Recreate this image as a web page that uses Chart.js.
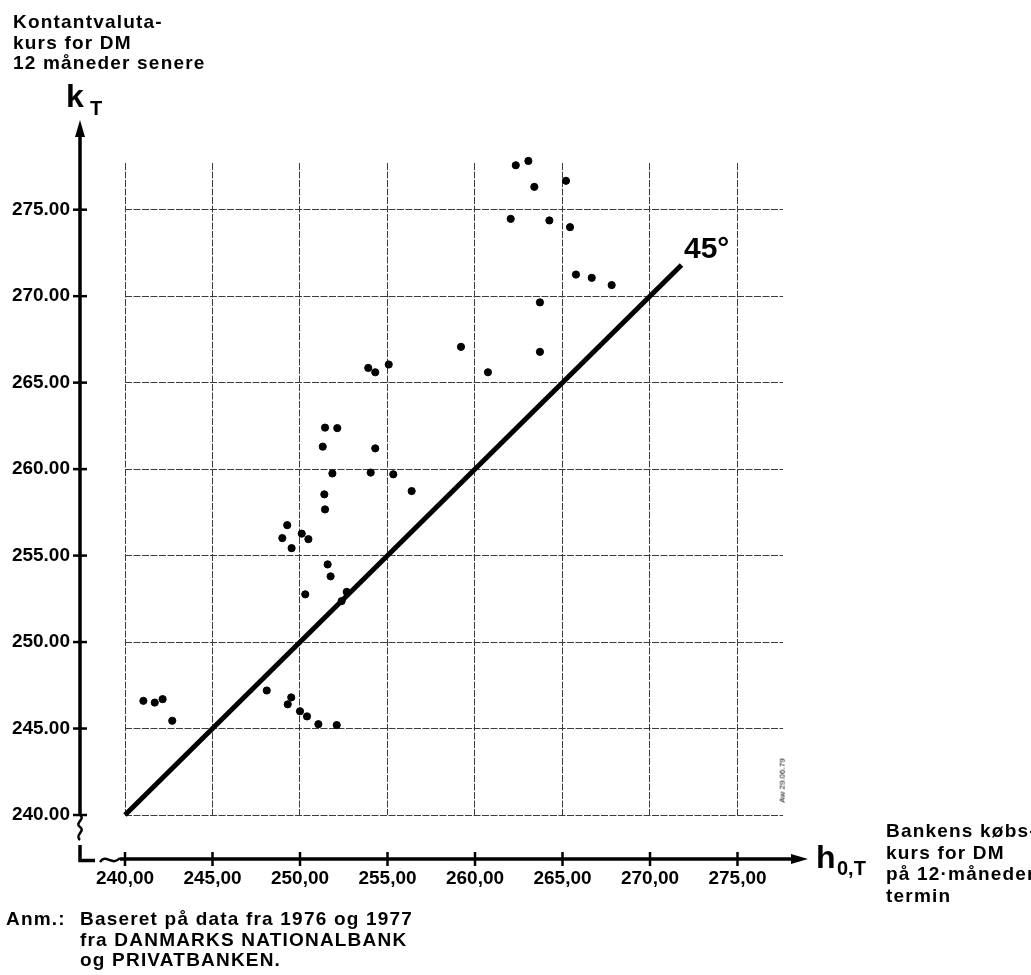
<!DOCTYPE html>
<html>
<head>
<meta charset="utf-8">
<script src="https://cdn.jsdelivr.net/npm/chart.js@4/dist/chart.umd.min.js"></script>
<style>
  html, body { margin: 0; padding: 0; background: #fff; }
  #wrap { position: relative; width: 1031px; height: 975px; overflow: hidden; }
  #chart { position: absolute; left: 0; top: 0; }
  .txt { position: absolute; font-family: 'Liberation Sans', Arial, Helvetica, sans-serif; color: #000; white-space: nowrap; }
  .block { font-weight: bold; font-size: 19px; line-height: 20.5px; letter-spacing: 1.2px; }
  .sym { font-size: 32px; line-height: 32px; font-weight: bold; }
  .sub { font-size: 20px; line-height: 20px; font-weight: bold; }
</style>
</head>
<body>
<div id="wrap">
  <canvas id="chart" width="1031" height="975"></canvas>

  <div class="txt block" style="left:13px; top:12px;">Kontantvaluta-<br>kurs for DM<br>12 måneder senere</div>
  <div class="txt sym" style="left:66px; top:80px;">k</div>
  <div class="txt sub" style="left:90px; top:98px;">T</div>

  <div class="txt sym" style="left:816px; top:841px;">h</div>
  <div class="txt sub" style="left:837px; top:858px;">0,T</div>
  <div class="txt block" style="left:886px; top:820px; line-height:21.5px;">Bankens købs-<br>kurs for DM<br>på 12·måneders<br>termin</div>

  <div class="txt block" style="left:6px; top:909px;">Anm.:</div>
  <div class="txt block" style="left:80px; top:909px;">Baseret på data fra 1976 og 1977<br>fra DANMARKS NATIONALBANK<br>og PRIVATBANKEN.</div>

  <div class="txt" style="left:684px; top:233px; font-size:30px; line-height:30px; font-weight:bold;">45°</div>
  <div class="txt" style="left:760px; top:776px; font-size:8px; transform:rotate(-90deg);">Aw 29.06.79</div>
</div>

<script>
// bank's forward rate (x) against the spot rate 12 months later (y)
const forwardRate = [
  241.05, 241.7, 242.15, 242.7,
  248.1, 249.5, 249.3, 250.0, 250.4, 251.05, 252.1,
  253.9, 254.3, 255.07, 251.43, 252.13, 251.3, 254.3, 251.85, 254.04, 255.33,
  256.38, 251.39, 251.43, 249.27, 248.99, 250.1, 250.48, 249.52, 251.58, 251.75,
  250.3, 252.67, 252.38,
  262.33, 263.05, 263.39, 265.2, 262.04, 264.25, 265.43, 265.77, 266.67, 267.81,
  263.71, 263.71, 259.2, 260.74
]
const spotRateLater = [
  246.6, 246.5, 246.7, 245.45,
  247.2, 246.8, 246.4, 246.0, 245.7, 245.25, 245.2,
  265.85, 265.6, 266.05, 262.4, 262.37, 261.3, 261.2, 259.75, 259.8, 259.7,
  258.73, 258.54, 257.67, 256.76, 256.01, 256.27, 255.95, 255.43, 254.49, 253.8,
  252.76, 252.9, 252.37,
  277.57, 277.82, 276.32, 276.67, 274.47, 274.38, 273.99, 271.25, 271.06, 270.64,
  269.64, 266.78, 267.07, 265.6
]

// the 45 degree line
const diagonalX = [240, 271.8]
const diagonalY = [240, 271.8]

const xTickValues = [240, 245, 250, 255, 260, 265, 270, 275]
const xTickLabels = ['240,00', '245,00', '250,00', '255,00', '260,00', '265,00', '270,00', '275,00']
const yTickValues = [240, 245, 250, 255, 260, 265, 270, 275]
const yTickLabels = ['240.00', '245.00', '250.00', '255.00', '260.00', '265.00', '270.00', '275.00']

const points = forwardRate.map((x, i) => ({ x: x, y: spotRateLater[i] }))
const diagonal = diagonalX.map((x, i) => ({ x: x, y: diagonalY[i] }))

// axes are drawn apart from the grid, with break marks at the origin
const brokenAxes = {
  id: 'brokenAxes',
  afterDraw(chart) {
    const { ctx, chartArea: a, scales: { x, y } } = chart
    const ax = a.left - 45
    const ay = a.bottom + 44
    const y0 = y.getPixelForValue(yTickValues[0])
    const xEnd = a.right + 25

    ctx.save()
    ctx.strokeStyle = '#000'
    ctx.fillStyle = '#000'
    ctx.lineCap = 'butt'

    // vertical axis
    ctx.lineWidth = 3.5
    ctx.beginPath()
    ctx.moveTo(ax, a.top - 30)
    ctx.lineTo(ax, y0)
    ctx.stroke()
    // squiggle below 240
    ctx.lineWidth = 2.5
    ctx.beginPath()
    ctx.moveTo(ax, y0)
    ctx.bezierCurveTo(ax + 6, y0 + 4, ax - 6, y0 + 8, ax, y0 + 12)
    ctx.bezierCurveTo(ax + 6, y0 + 16, ax - 6, y0 + 20, ax, y0 + 25)
    ctx.stroke()
    // corner
    ctx.lineWidth = 3.5
    ctx.beginPath()
    ctx.moveTo(ax, y0 + 30)
    ctx.lineTo(ax, ay + 1.5)
    ctx.lineTo(ax + 15, ay + 1.5)
    ctx.stroke()
    // tilde on the horizontal axis
    ctx.lineWidth = 2.5
    ctx.beginPath()
    ctx.moveTo(ax + 20, ay + 3)
    ctx.bezierCurveTo(ax + 26, ay - 6, ax + 32, ay + 8, ax + 40, ay - 1)
    ctx.stroke()
    // horizontal axis
    ctx.lineWidth = 3.5
    ctx.beginPath()
    ctx.moveTo(ax + 40, ay)
    ctx.lineTo(xEnd - 10, ay)
    ctx.stroke()

    // arrow heads
    ctx.beginPath()
    ctx.moveTo(ax, a.top - 43)
    ctx.lineTo(ax - 5, a.top - 26)
    ctx.lineTo(ax + 5, a.top - 26)
    ctx.closePath()
    ctx.fill()
    ctx.beginPath()
    ctx.moveTo(xEnd, ay)
    ctx.lineTo(xEnd - 17, ay - 5)
    ctx.lineTo(xEnd - 17, ay + 5)
    ctx.closePath()
    ctx.fill()

    // tick marks
    ctx.lineWidth = 2.5
    yTickValues.forEach(v => {
      const py = y.getPixelForValue(v)
      ctx.beginPath()
      ctx.moveTo(ax - 7, py)
      ctx.lineTo(ax + 7, py)
      ctx.stroke()
    })
    xTickValues.forEach(v => {
      const px = x.getPixelForValue(v)
      ctx.beginPath()
      ctx.moveTo(px, ay - 7)
      ctx.lineTo(px, ay + 7)
      ctx.stroke()
    })
    ctx.restore()
  }
}

const gridStyle = { color: '#3c3c3c', lineWidth: 1, drawTicks: false }
const tickFont = { family: "'Liberation Sans', Arial, sans-serif", size: 19, weight: 'bold' }

new Chart(document.getElementById('chart').getContext('2d'), {
  type: 'scatter',
  data: {
    datasets: [
      {
        type: 'line',
        data: diagonal,
        borderColor: '#000',
        borderWidth: 5,
        pointRadius: 0,
        fill: false,
        clip: false
      },
      {
        data: points,
        backgroundColor: '#000',
        borderColor: '#000',
        pointRadius: 3.6,
        clip: false
      }
    ]
  },
  options: {
    responsive: false,
    animation: false,
    events: [],
    layout: { padding: { left: 0, right: 248, top: 163, bottom: 80 } },
    plugins: { legend: { display: false }, tooltip: { enabled: false } },
    scales: {
      x: {
        type: 'linear',
        min: 240,
        max: 277.6,
        afterBuildTicks: scale => { scale.ticks = xTickValues.map(v => ({ value: v })) },
        afterFit: scale => { scale.height = 80 },
        grid: gridStyle,
        border: { display: false, dash: [7, 1.5] },
        ticks: {
          padding: 52,
          color: '#000',
          font: tickFont,
          maxRotation: 0,
          callback: (value, index) => xTickLabels[index]
        }
      },
      y: {
        type: 'linear',
        min: 240,
        max: 277.7,
        afterBuildTicks: scale => { scale.ticks = yTickValues.map(v => ({ value: v })) },
        afterFit: scale => { scale.width = 125 },
        grid: gridStyle,
        border: { display: false, dash: [7, 1.5] },
        ticks: {
          padding: 55,
          color: '#000',
          font: tickFont,
          callback: (value, index) => yTickLabels[index]
        }
      }
    }
  },
  plugins: [brokenAxes]
})
</script>
</body>
</html>
